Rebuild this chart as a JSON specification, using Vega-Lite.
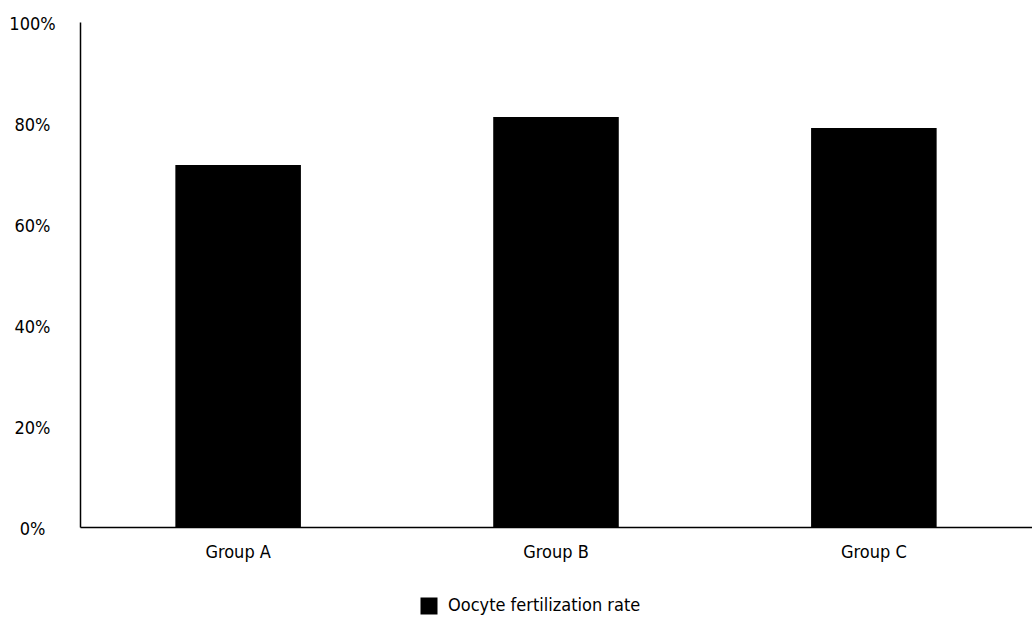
{
  "$schema": "https://vega.github.io/schema/vega-lite/v6.json",
  "width": 952,
  "height": 505,
  "autosize": "none",
  "padding": {"left": 80, "top": 22, "right": 0, "bottom": 92},
  "background": "white",
  "data": {
    "values": [
      {"group": "Group A", "series": "Oocyte fertilization rate", "rate": 0.717},
      {"group": "Group B", "series": "Oocyte fertilization rate", "rate": 0.812},
      {"group": "Group C", "series": "Oocyte fertilization rate", "rate": 0.790}
    ]
  },
  "config": {
    "font": "DejaVu Sans Condensed",
    "view": {"stroke": null},
    "axis": {"labelFont": "DejaVu Sans Condensed", "labelFontSize": 18, "labelColor": "#000", "domainColor": "#000", "domainWidth": 1.5, "ticks": false, "grid": false, "title": null},
    "legend": {"labelFont": "DejaVu Sans Condensed", "labelFontSize": 18, "labelColor": "#000", "labelLimit": 400}
  },
  "mark": {"type": "bar", "color": "#000"},
  "encoding": {
    "x": {
      "field": "group",
      "type": "nominal",
      "scale": {"paddingInner": 0.605, "paddingOuter": 0.3},
      "axis": {"labelAngle": 0, "labelPadding": 16}
    },
    "y": {
      "field": "rate",
      "type": "quantitative",
      "scale": {"domain": [0, 1]},
      "axis": {"format": ".0%", "values": [0, 0.2, 0.4, 0.6, 0.8, 1], "labelAlign": "center", "labelPadding": 48, "labelOffset": 2}
    },
    "fill": {
      "field": "series",
      "type": "nominal",
      "scale": {"range": ["#000"]},
      "legend": {"title": null, "orient": "none", "legendX": 340, "legendY": 575, "symbolType": "square", "symbolSize": 289, "labelOffset": 10, "symbolStrokeWidth": 0}
    }
  }
}
